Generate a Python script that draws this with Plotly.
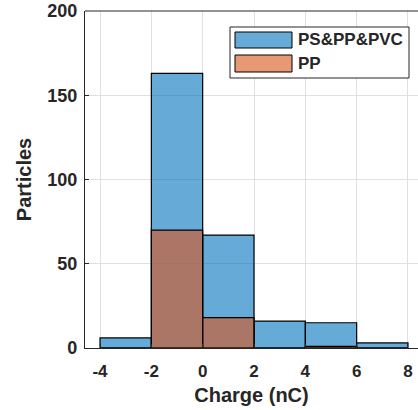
import numpy as np
import plotly.graph_objects as go

# Data
bin_edges = [-4, -2, 0, 2, 4, 6, 8]
counts_all = [6, 163, 67, 16, 15, 3]      # PS&PP&PVC
counts_pp = [0, 70, 18, 0, 1, 0]          # PP
series_names = ["PS&PP&PVC", "PP"]
x_ticks = [-4, -2, 0, 2, 4, 6, 8]
y_ticks = [0, 50, 100, 150, 200]

edges = np.array(bin_edges, dtype=float)
centers = (edges[:-1] + edges[1:]) / 2
widths = np.diff(edges)

BLUE = "rgba(0,114,189,0.6)"
ORANGE = "rgba(217,83,25,0.6)"
TXT = "#262626"
FONT = "Liberation Sans, Arial, sans-serif"

fig = go.Figure()
fig.add_trace(go.Bar(x=centers, y=counts_all, width=widths, name=series_names[0],
                     marker=dict(color=BLUE, line=dict(color="black", width=1.2)),
                     showlegend=False))
fig.add_trace(go.Bar(x=centers, y=counts_pp, width=widths, name=series_names[1],
                     marker=dict(color=ORANGE, line=dict(color="black", width=1.2)),
                     showlegend=False))

W, H = 418, 410
L, R, T, B = 85, 0, 11, 62
pw, ph = W - L - R, H - T - B

def px(x):
    return (x - L) / pw

def py(y):
    return (H - B - y) / ph

shapes = []
# top axis line
shapes.append(dict(type="line", xref="paper", yref="paper", x0=0, x1=1, y0=1, y1=1,
                   line=dict(color=TXT, width=1.2)))
# legend box
shapes.append(dict(type="rect", xref="paper", yref="paper", x0=px(230), x1=px(409),
                   y0=py(78), y1=py(27), fillcolor="white", line=dict(color=TXT, width=1), layer="above"))
shapes.append(dict(type="rect", xref="paper", yref="paper", x0=px(235), x1=px(292),
                   y0=py(48), y1=py(32), fillcolor=BLUE, line=dict(color="black", width=1), layer="above"))
shapes.append(dict(type="rect", xref="paper", yref="paper", x0=px(235), x1=px(292),
                   y0=py(72), y1=py(55), fillcolor=ORANGE, line=dict(color="black", width=1), layer="above"))

annotations = [
    dict(text="<b>%s</b>" % series_names[0], xref="paper", yref="paper", x=px(296), y=py(40),
         xanchor="left", yanchor="middle", showarrow=False, font=dict(size=17, color=TXT, family=FONT)),
    dict(text="<b>%s</b>" % series_names[1], xref="paper", yref="paper", x=px(296), y=py(63),
         xanchor="left", yanchor="middle", showarrow=False, font=dict(size=17, color=TXT, family=FONT)),
]

fig.update_layout(
    width=W, height=H,
    margin=dict(l=L, r=R, t=T, b=B),
    barmode="overlay",
    plot_bgcolor="white", paper_bgcolor="white",
    font=dict(family=FONT, color=TXT, size=18),
    shapes=shapes, annotations=annotations,
    xaxis=dict(range=[-4.585, 8.39], tickvals=x_ticks, ticktext=["<b>%d</b>" % v for v in x_ticks],
               showgrid=True, gridcolor="#E0E0E0", gridwidth=1, zeroline=False,
               showline=True, linecolor=TXT, linewidth=1.2, automargin=False,
               ticks="inside", ticklen=4, tickcolor=TXT, ticklabelstandoff=7,
               ticklabeloverflow="allow",
               title=dict(text="<b>Charge (nC)</b>", font=dict(size=20, color=TXT), standoff=8),
               tickfont=dict(size=17)),
    yaxis=dict(range=[0, 200], tickvals=y_ticks, ticktext=["<b>%d</b>" % v for v in y_ticks],
               showgrid=True, gridcolor="#E0E0E0", gridwidth=1, zeroline=False,
               showline=True, linecolor=TXT, linewidth=1.2, automargin=False,
               ticks="inside", ticklen=4, tickcolor=TXT, ticklabelstandoff=3,
               ticklabeloverflow="allow",
               title=dict(text="<b>Particles</b>", font=dict(size=20, color=TXT), standoff=10),
               tickfont=dict(size=18)),
)

fig.write_html("out.html", config={"displayModeBar": False},
               post_script="document.body.style.margin='0';")
